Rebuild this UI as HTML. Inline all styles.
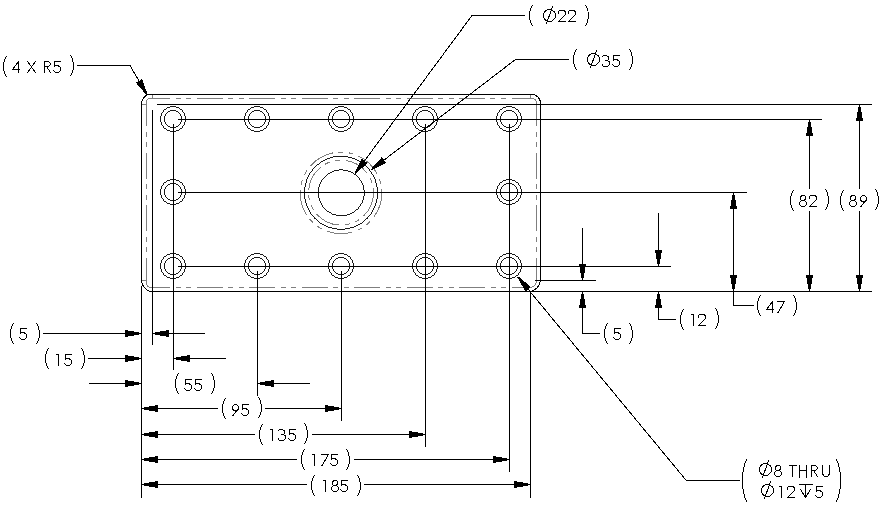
<!DOCTYPE html>
<html><head><meta charset="utf-8"><title>drawing</title>
<style>html,body{margin:0;padding:0;background:#fff;width:884px;height:508px;overflow:hidden;font-family:"Liberation Sans",sans-serif}svg{display:block}</style>
</head><body>
<svg width="884" height="508" viewBox="0 0 884 508" shape-rendering="crispEdges" role="img" aria-label="Plate drawing: 185 x 89 plate, 4 X R5 corners, center bore Ø22 / Ø35, holes Ø8 THRU Ø12 depth 5">
<rect width="884" height="508" fill="#fff"/>
<g fill="none" stroke="#7f7f7f" stroke-width="1">
<path d="M146.5,102 A4,4 0 0 1 150.5,98.5"/>
<path d="M532.5,98.5 A4,4.5 0 0 1 536.5,103"/>
<path d="M536.5,280 A6.5,7 0 0 1 530,287.5"/>
<path d="M146.5,283 A4.5,4.5 0 0 0 151,287.5"/>
<path d="M152.5,94.5 V98.5"/>
<path d="M530.5,94.5 V98.5"/>
<path d="M141.5,104.5 H146.5"/>
<path d="M141.5,280.5 H146.5"/>
<path d="M536.5,280.5 H540.5"/>
<path d="M150,98.5 H532.5" stroke-dasharray="26 5.5 5 5.5 5 5.5" stroke-dashoffset="6"/>
<path d="M151,287.5 H530" stroke-dasharray="26 5.5 5 5.5 5 5.5" stroke-dashoffset="7"/>
<path d="M146.5,102 V283" stroke-dasharray="26 5.5 5 5.5 5 5.5" stroke-dashoffset="2"/>
<path d="M536.5,103 V280" stroke-dasharray="26 5.5 5 5.5 5 5.5" stroke-dashoffset="3"/>
<circle cx="341" cy="192.6" r="32.5" stroke-dasharray="26 5.5 5 5.5 5 5.5"/>
<circle cx="341" cy="192.9" r="40.8" stroke-dasharray="26 5.5 5 5.5 5 5.5"/>
</g>
<g fill="none" stroke="#000" stroke-width="1">
<path d="M148,94.5 H533.5 A11,11 0 0 1 540.5,101.5 V281 A14,14 0 0 1 530.5,291.5"/>
<path d="M150,291.5 H872"/>
<path d="M150,291.5 A14,14 0 0 1 141.5,281.5 V103 A12.5,12.5 0 0 1 148,94.5"/>
<path d="M157,104.5 H872"/>
<path d="M178,119.5 H822"/>
<path d="M178,192.5 H747"/>
<path d="M178,266.5 H671"/>
<path d="M535,280.5 H596"/>
<path d="M141.5,286 V498"/>
<path d="M152.5,110 V345"/>
<path d="M173.5,124 V370"/>
<path d="M257.5,271 V396"/>
<path d="M341.5,271 V421"/>
<path d="M425.5,124 V447"/>
<path d="M509.5,124 V472"/>
<path d="M530.5,291 V498"/>
<path d="M43,333.5 H141"/>
<path d="M153,333.5 H205"/>
<path d="M88,358.5 H141"/>
<path d="M174,358.5 H226"/>
<path d="M89,383.5 H141"/>
<path d="M258,383.5 H310"/>
<path d="M142,408.5 H218"/>
<path d="M265,408.5 H341"/>
<path d="M142,434.5 H255"/>
<path d="M312,434.5 H425"/>
<path d="M142,459.5 H297"/>
<path d="M354,459.5 H509"/>
<path d="M142,484.5 H307"/>
<path d="M364,484.5 H530"/>
<path d="M582.5,227.5 V280"/>
<path d="M582.5,292 V333.5 H600"/>
<path d="M658.5,212.5 V266"/>
<path d="M658.5,292 V319.5 H676"/>
<path d="M733.5,193 V305.5 H754"/>
<path d="M809.5,120 V188.5"/>
<path d="M809.5,211 V291"/>
<path d="M859.5,105 V188.5"/>
<path d="M859.5,211 V291"/>
<path d="M77,65.5 H130 L147,94.7"/>
<path d="M524.5,15.5 H472 L355,173.7"/>
<path d="M569,59.5 H515.5 L371.4,169.7"/>
<path d="M518,277 L530,291.5 L686.3,480.5 H740"/>
<circle cx="173" cy="119" r="12.5" stroke-width="0.9"/>
<circle cx="173" cy="119" r="8.5" stroke-width="0.9"/>
<circle cx="257" cy="119" r="12.5" stroke-width="0.9"/>
<circle cx="257" cy="119" r="8.5" stroke-width="0.9"/>
<circle cx="341" cy="119" r="12.5" stroke-width="0.9"/>
<circle cx="341" cy="119" r="8.5" stroke-width="0.9"/>
<circle cx="425" cy="119" r="12.5" stroke-width="0.9"/>
<circle cx="425" cy="119" r="8.5" stroke-width="0.9"/>
<circle cx="509" cy="119" r="12.5" stroke-width="0.9"/>
<circle cx="509" cy="119" r="8.5" stroke-width="0.9"/>
<circle cx="173" cy="192" r="12.5" stroke-width="0.9"/>
<circle cx="173" cy="192" r="8.5" stroke-width="0.9"/>
<circle cx="509" cy="192" r="12.5" stroke-width="0.9"/>
<circle cx="509" cy="192" r="8.5" stroke-width="0.9"/>
<circle cx="173" cy="266" r="12.5" stroke-width="0.9"/>
<circle cx="173" cy="266" r="8.5" stroke-width="0.9"/>
<circle cx="257" cy="266" r="12.5" stroke-width="0.9"/>
<circle cx="257" cy="266" r="8.5" stroke-width="0.9"/>
<circle cx="341" cy="266" r="12.5" stroke-width="0.9"/>
<circle cx="341" cy="266" r="8.5" stroke-width="0.9"/>
<circle cx="425" cy="266" r="12.5" stroke-width="0.9"/>
<circle cx="425" cy="266" r="8.5" stroke-width="0.9"/>
<circle cx="509" cy="266" r="12.5" stroke-width="0.9"/>
<circle cx="509" cy="266" r="8.5" stroke-width="0.9"/>
<circle cx="341.3" cy="192.8" r="23" stroke-width="0.9"/>
<circle cx="341" cy="192.8" r="36.6" stroke-width="0.9"/>
<g stroke-linecap="square">
<g><title>(4XR5)</title>
<path transform="translate(3,56)" d="M3.2,0.3 C-0.4,6 -0.4,15 3.2,20.7"/>
<path transform="translate(12,61)" d="M6.5,11.5 V0.5 L0.5,8.5 H7.5"/>
<path transform="translate(27,61)" d="M0.5,0.5 L8.5,11.5 M8.5,0.5 L0.5,11.5"/>
<path transform="translate(44,61)" d="M0.5,11.5 V0.5 H4.5 L6.5,2.5 V3.5 L4.5,5.5 H0.5 M2.5,5.5 L6.8,12"/>
<path transform="translate(53,61)" d="M7.5,0.5 H1.5 V5.5 M1.5,4.5 H5 L7.5,6.5 V9.5 L5.5,11.5 H2.5 L0.5,9.5"/>
<path transform="translate(70,55)" d="M0.8,0.3 C4.4,6 4.4,15 0.8,20.7"/>
</g>
<g><title>(Ø22)</title>
<path transform="translate(529,5)" d="M3.2,0.3 C-0.4,6 -0.4,15 3.2,20.7"/>
<path transform="translate(543,9)" d="M6.5,0.5 A6,6 0 1 1 6.5,12.5 A6,6 0 1 1 6.5,0.5 M9.5,-2 L3.5,14.5"/>
<path transform="translate(558,10)" d="M0.5,3.5 V1.5 L1.5,0.5 H6 L7.5,2 V4.5 L0.5,11.5 H7.5"/>
<path transform="translate(568,10)" d="M0.5,3.5 V1.5 L1.5,0.5 H6 L7.5,2 V4.5 L0.5,11.5 H7.5"/>
<path transform="translate(585,5)" d="M0.8,0.3 C4.4,6 4.4,15 0.8,20.7"/>
</g>
<g><title>(Ø35)</title>
<path transform="translate(573,49)" d="M3.2,0.3 C-0.4,6 -0.4,15 3.2,20.7"/>
<path transform="translate(587,53)" d="M6.5,0.5 A6,6 0 1 1 6.5,12.5 A6,6 0 1 1 6.5,0.5 M9.5,-2 L3.5,14.5"/>
<path transform="translate(602,55)" d="M0.5,1.5 L1.5,0.5 H4.5 L6.5,2 V4 L5.5,5.5 H3 M5.5,5.5 L7.5,7 V9.5 L5.5,11.5 H1.5 L0.5,10"/>
<path transform="translate(612,55)" d="M7.5,0.5 H1.5 V5.5 M1.5,4.5 H5 L7.5,6.5 V9.5 L5.5,11.5 H2.5 L0.5,9.5"/>
<path transform="translate(629,49)" d="M0.8,0.3 C4.4,6 4.4,15 0.8,20.7"/>
</g>
<g><title>(82)</title>
<path transform="translate(790,190)" d="M3.2,0.3 C-0.4,6 -0.4,15 3.2,20.7"/>
<path transform="translate(799,195)" d="M4,0.5 A2.5,2.5 0 1 1 4,5.5 A2.5,2.5 0 1 1 4,0.5 M4,5.5 A3.5,3 0 1 1 4,11.5 A3.5,3 0 1 1 4,5.5"/>
<path transform="translate(809,195)" d="M0.5,3.5 V1.5 L1.5,0.5 H6 L7.5,2 V4.5 L0.5,11.5 H7.5"/>
<path transform="translate(825,189)" d="M0.8,0.3 C4.4,6 4.4,15 0.8,20.7"/>
</g>
<g><title>(89)</title>
<path transform="translate(840,190)" d="M3.2,0.3 C-0.4,6 -0.4,15 3.2,20.7"/>
<path transform="translate(849,195)" d="M4,0.5 A2.5,2.5 0 1 1 4,5.5 A2.5,2.5 0 1 1 4,0.5 M4,5.5 A3.5,3 0 1 1 4,11.5 A3.5,3 0 1 1 4,5.5"/>
<path transform="translate(860,195)" d="M3.5,0.5 A3,3 0 1 1 3.5,6.5 A3,3 0 1 1 3.5,0.5 M6,5 L1,11.5"/>
<path transform="translate(875,189)" d="M0.8,0.3 C4.4,6 4.4,15 0.8,20.7"/>
</g>
<g><title>(5)</title>
<path transform="translate(10,323)" d="M3.2,0.3 C-0.4,6 -0.4,15 3.2,20.7"/>
<path transform="translate(19,328)" d="M7.5,0.5 H1.5 V5.5 M1.5,4.5 H5 L7.5,6.5 V9.5 L5.5,11.5 H2.5 L0.5,9.5"/>
<path transform="translate(36,323)" d="M0.8,0.3 C4.4,6 4.4,15 0.8,20.7"/>
</g>
<g><title>(15)</title>
<path transform="translate(45,348)" d="M3.2,0.3 C-0.4,6 -0.4,15 3.2,20.7"/>
<path transform="translate(56,354)" d="M0.5,0.5 H2.5 V11.5"/>
<path transform="translate(64,354)" d="M7.5,0.5 H1.5 V5.5 M1.5,4.5 H5 L7.5,6.5 V9.5 L5.5,11.5 H2.5 L0.5,9.5"/>
<path transform="translate(81,348)" d="M0.8,0.3 C4.4,6 4.4,15 0.8,20.7"/>
</g>
<g><title>(55)</title>
<path transform="translate(175,373)" d="M3.2,0.3 C-0.4,6 -0.4,15 3.2,20.7"/>
<path transform="translate(184,379)" d="M7.5,0.5 H1.5 V5.5 M1.5,4.5 H5 L7.5,6.5 V9.5 L5.5,11.5 H2.5 L0.5,9.5"/>
<path transform="translate(194,379)" d="M7.5,0.5 H1.5 V5.5 M1.5,4.5 H5 L7.5,6.5 V9.5 L5.5,11.5 H2.5 L0.5,9.5"/>
<path transform="translate(211,373)" d="M0.8,0.3 C4.4,6 4.4,15 0.8,20.7"/>
</g>
<g><title>(95)</title>
<path transform="translate(222,398)" d="M3.2,0.3 C-0.4,6 -0.4,15 3.2,20.7"/>
<path transform="translate(232,404)" d="M3.5,0.5 A3,3 0 1 1 3.5,6.5 A3,3 0 1 1 3.5,0.5 M6,5 L1,11.5"/>
<path transform="translate(241,404)" d="M7.5,0.5 H1.5 V5.5 M1.5,4.5 H5 L7.5,6.5 V9.5 L5.5,11.5 H2.5 L0.5,9.5"/>
<path transform="translate(258,397)" d="M0.8,0.3 C4.4,6 4.4,15 0.8,20.7"/>
</g>
<g><title>(135)</title>
<path transform="translate(259,424)" d="M3.2,0.3 C-0.4,6 -0.4,15 3.2,20.7"/>
<path transform="translate(270,429)" d="M0.5,0.5 H2.5 V11.5"/>
<path transform="translate(278,429)" d="M0.5,1.5 L1.5,0.5 H4.5 L6.5,2 V4 L5.5,5.5 H3 M5.5,5.5 L7.5,7 V9.5 L5.5,11.5 H1.5 L0.5,10"/>
<path transform="translate(288,429)" d="M7.5,0.5 H1.5 V5.5 M1.5,4.5 H5 L7.5,6.5 V9.5 L5.5,11.5 H2.5 L0.5,9.5"/>
<path transform="translate(304,423)" d="M0.8,0.3 C4.4,6 4.4,15 0.8,20.7"/>
</g>
<g><title>(175)</title>
<path transform="translate(301,449)" d="M3.2,0.3 C-0.4,6 -0.4,15 3.2,20.7"/>
<path transform="translate(312,454)" d="M0.5,0.5 H2.5 V11.5"/>
<path transform="translate(321,454)" d="M0.5,0.5 H7.5 L1,11.5"/>
<path transform="translate(330,454)" d="M7.5,0.5 H1.5 V5.5 M1.5,4.5 H5 L7.5,6.5 V9.5 L5.5,11.5 H2.5 L0.5,9.5"/>
<path transform="translate(346,449)" d="M0.8,0.3 C4.4,6 4.4,15 0.8,20.7"/>
</g>
<g><title>(185)</title>
<path transform="translate(311,475)" d="M3.2,0.3 C-0.4,6 -0.4,15 3.2,20.7"/>
<path transform="translate(323,480)" d="M0.5,0.5 H2.5 V11.5"/>
<path transform="translate(331,480)" d="M4,0.5 A2.5,2.5 0 1 1 4,5.5 A2.5,2.5 0 1 1 4,0.5 M4,5.5 A3.5,3 0 1 1 4,11.5 A3.5,3 0 1 1 4,5.5"/>
<path transform="translate(340,480)" d="M7.5,0.5 H1.5 V5.5 M1.5,4.5 H5 L7.5,6.5 V9.5 L5.5,11.5 H2.5 L0.5,9.5"/>
<path transform="translate(357,475)" d="M0.8,0.3 C4.4,6 4.4,15 0.8,20.7"/>
</g>
<g><title>(5)</title>
<path transform="translate(604,323)" d="M3.2,0.3 C-0.4,6 -0.4,15 3.2,20.7"/>
<path transform="translate(613,328)" d="M7.5,0.5 H1.5 V5.5 M1.5,4.5 H5 L7.5,6.5 V9.5 L5.5,11.5 H2.5 L0.5,9.5"/>
<path transform="translate(629,323)" d="M0.8,0.3 C4.4,6 4.4,15 0.8,20.7"/>
</g>
<g><title>(12)</title>
<path transform="translate(680,309)" d="M3.2,0.3 C-0.4,6 -0.4,15 3.2,20.7"/>
<path transform="translate(691,314)" d="M0.5,0.5 H2.5 V11.5"/>
<path transform="translate(698,314)" d="M0.5,3.5 V1.5 L1.5,0.5 H6 L7.5,2 V4.5 L0.5,11.5 H7.5"/>
<path transform="translate(715,308)" d="M0.8,0.3 C4.4,6 4.4,15 0.8,20.7"/>
</g>
<g><title>(47)</title>
<path transform="translate(757,295)" d="M3.2,0.3 C-0.4,6 -0.4,15 3.2,20.7"/>
<path transform="translate(766,301)" d="M6.5,11.5 V0.5 L0.5,8.5 H7.5"/>
<path transform="translate(777,301)" d="M0.5,0.5 H7.5 L1,11.5"/>
<path transform="translate(793,295)" d="M0.8,0.3 C4.4,6 4.4,15 0.8,20.7"/>
</g>
<g><title>(Ø8THRU)Ø12↧5</title>
<path transform="translate(741,459)" d="M5.5,0.5 C0,12 0,31 5.5,42.5"/>
<path transform="translate(759,463)" d="M6.5,0.5 A6,6 0 1 1 6.5,12.5 A6,6 0 1 1 6.5,0.5 M9.5,-2 L3.5,14.5"/>
<path transform="translate(774,465)" d="M4,0.5 A2.5,2.5 0 1 1 4,5.5 A2.5,2.5 0 1 1 4,0.5 M4,5.5 A3.5,3 0 1 1 4,11.5 A3.5,3 0 1 1 4,5.5"/>
<path transform="translate(789,465)" d="M0.5,0.5 H7.5 M3.5,0.5 V11.5"/>
<path transform="translate(799,465)" d="M0.5,0 V12 M7.5,0 V12 M0.5,5.5 H7.5"/>
<path transform="translate(811,465)" d="M0.5,11.5 V0.5 H4.5 L6.5,2.5 V3.5 L4.5,5.5 H0.5 M2.5,5.5 L6.8,12"/>
<path transform="translate(822,465)" d="M0.5,0 V9 L2.5,11.5 H5.5 L7.5,9 V0"/>
<path transform="translate(836,459)" d="M0.5,0.5 C6,12 6,31 0.5,42.5"/>
<path transform="translate(761,484)" d="M6.5,0.5 A6,6 0 1 1 6.5,12.5 A6,6 0 1 1 6.5,0.5 M9.5,-2 L3.5,14.5"/>
<path transform="translate(779,486)" d="M0.5,0.5 H2.5 V11.5"/>
<path transform="translate(787,486)" d="M0.5,3.5 V1.5 L1.5,0.5 H6 L7.5,2 V4.5 L0.5,11.5 H7.5"/>
<path transform="translate(799,484)" d="M0,0.5 H13 M6.5,0.5 V13.5 M1.5,5.5 L6.5,13.5 L11.5,5.5"/>
<path transform="translate(815,486)" d="M7.5,0.5 H1.5 V5.5 M1.5,4.5 H5 L7.5,6.5 V9.5 L5.5,11.5 H2.5 L0.5,9.5"/>
</g>
</g>
</g>
<g fill="#000" stroke="none">
<polygon points="146.39,95.05 135.88,82.64 142.12,79.04 147.61,94.35"/>
<polygon points="354.44,173.28 361.60,158.69 367.40,162.96 355.56,174.12"/>
<polygon points="370.97,169.15 381.88,157.08 386.27,162.79 371.83,170.25"/>
<polygon points="518.54,276.55 530.97,287.04 525.42,291.63 517.46,277.45"/>
<polygon points="141.00,334.20 125.00,337.10 125.00,329.90 141.00,332.80"/>
<polygon points="141.00,359.20 125.00,362.10 125.00,354.90 141.00,357.80"/>
<polygon points="141.00,384.20 125.00,387.10 125.00,379.90 141.00,382.80"/>
<polygon points="153.00,332.80 169.00,329.90 169.00,337.10 153.00,334.20"/>
<polygon points="174.00,357.80 190.00,354.90 190.00,362.10 174.00,359.20"/>
<polygon points="258.00,382.80 274.00,379.90 274.00,387.10 258.00,384.20"/>
<polygon points="142.00,407.80 158.00,404.90 158.00,412.10 142.00,409.20"/>
<polygon points="341.00,409.20 325.00,412.10 325.00,404.90 341.00,407.80"/>
<polygon points="142.00,433.80 158.00,430.90 158.00,438.10 142.00,435.20"/>
<polygon points="425.00,435.20 409.00,438.10 409.00,430.90 425.00,433.80"/>
<polygon points="142.00,458.80 158.00,455.90 158.00,463.10 142.00,460.20"/>
<polygon points="509.00,460.20 493.00,463.10 493.00,455.90 509.00,458.80"/>
<polygon points="142.00,483.80 158.00,480.90 158.00,488.10 142.00,485.20"/>
<polygon points="530.00,485.20 514.00,488.10 514.00,480.90 530.00,483.80"/>
<polygon points="581.80,280.00 578.90,264.00 586.10,264.00 583.20,280.00"/>
<polygon points="583.20,292.00 586.10,308.00 578.90,308.00 581.80,292.00"/>
<polygon points="657.80,266.00 654.90,250.00 662.10,250.00 659.20,266.00"/>
<polygon points="659.20,292.00 662.10,308.00 654.90,308.00 657.80,292.00"/>
<polygon points="734.20,193.00 737.10,209.00 729.90,209.00 732.80,193.00"/>
<polygon points="732.80,291.00 729.90,275.00 737.10,275.00 734.20,291.00"/>
<polygon points="810.20,120.00 813.10,136.00 805.90,136.00 808.80,120.00"/>
<polygon points="808.80,291.00 805.90,275.00 813.10,275.00 810.20,291.00"/>
<polygon points="860.20,105.00 863.10,121.00 855.90,121.00 858.80,105.00"/>
<polygon points="858.80,291.00 855.90,275.00 863.10,275.00 860.20,291.00"/>
</g>
</svg>
</body></html>
